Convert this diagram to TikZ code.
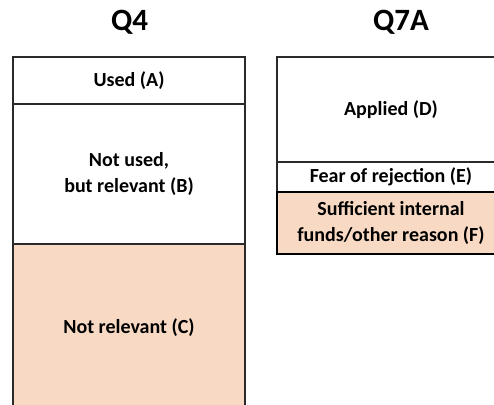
\documentclass[tikz,border=0pt]{standalone}
\usepackage{fontspec}
\setmainfont{Carlito}
\definecolor{peach}{HTML}{F8D9C3}
\definecolor{edge}{HTML}{2A2A2A}
\begin{document}
\begin{tikzpicture}[x=1pt,y=-1pt,
  cell/.style={draw=edge, line width=1.6pt, anchor=north west, inner sep=0pt, outer sep=0pt,
    align=center, font=\fontsize{20}{26}\selectfont\bfseries},
  lcell/.style={cell, minimum width=232pt},
  rcell/.style={cell, minimum width=228pt},
  hot/.style={fill=peach},
  ttl/.style={font=\fontsize{31}{34}\selectfont\bfseries, inner sep=0pt}]
\path[use as bounding box, clip] (0,0) rectangle (494,404);
\fill[white] (0,0) rectangle (494,404);
% titles
\node[ttl] (t4) at (129.5,22) {Q4};
\node[ttl] (t7) at (401,22) {Q7A};
% left column
\node[lcell, minimum height=47pt] (A) at (13,57) {Used (A)};
\node[lcell, minimum height=140pt] (B) at (13,104) {Not used,\\but relevant (B)};
\node[lcell, hot, minimum height=168pt] (C) at (13,244) {Not relevant (C)};
% right column
\node[rcell, minimum height=105pt] (D) at (277,57) {Applied (D)};
\node[rcell, minimum height=30pt] (E) at (277,162) {Fear of rejection (E)};
\node[rcell, hot, draw=black, line width=2pt, minimum height=62pt] (F) at (277,192) {Sufficient internal\\funds/other reason (F)};
\end{tikzpicture}
\end{document}
